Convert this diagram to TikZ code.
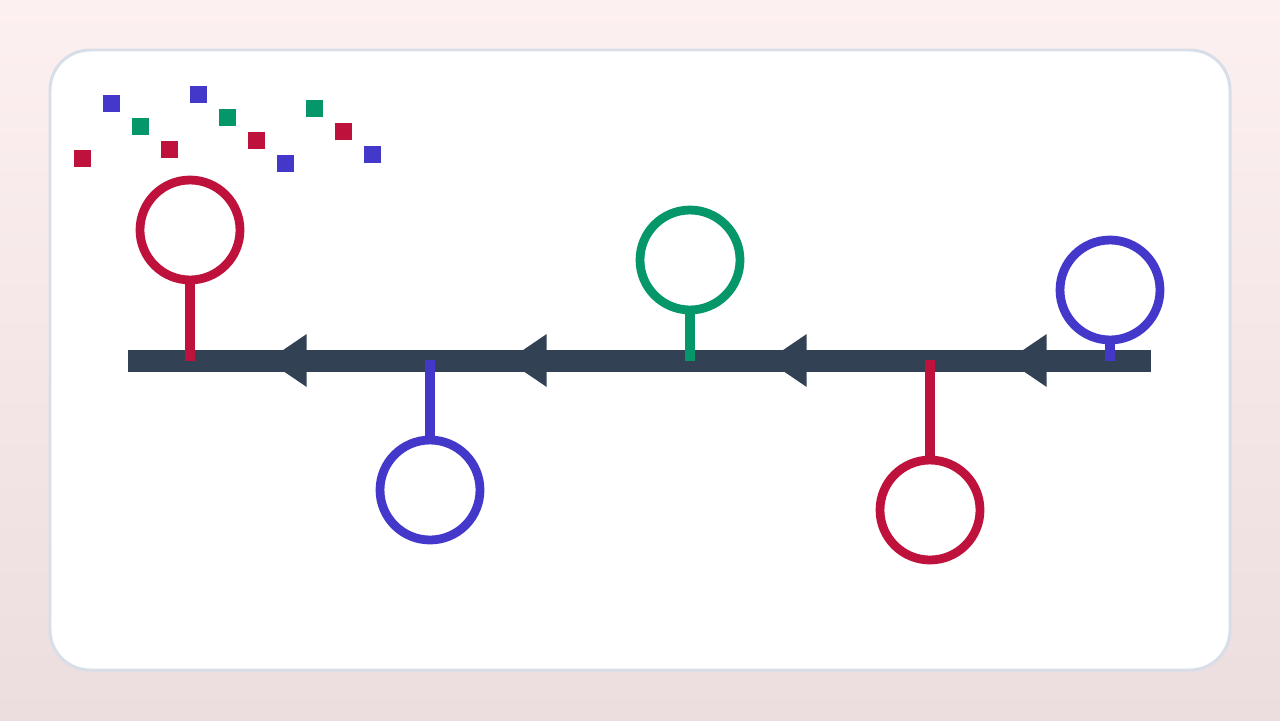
\documentclass[tikz,border=0pt]{standalone}
\usepackage{xcolor}
\usetikzlibrary{positioning}
\definecolor{ruby}{HTML}{BE123C}
\definecolor{indigo}{HTML}{4338CA}
\definecolor{emerald}{HTML}{059669}
\definecolor{slate}{HTML}{334155}
\definecolor{cardline}{HTML}{D8DEE8}
\definecolor{bgtop}{HTML}{FDF0F0}
\definecolor{bgbot}{HTML}{ECDDDE}

\begin{document}
\begin{tikzpicture}[x=0.02cm, y=-0.02cm,
  ring/.style={draw=#1, circle, line width=5pt, minimum size=2cm, inner sep=0pt},
  stem/.style={draw=#1, line width=6.2pt}]
  % Define background and card
  \shade[top color=bgtop, bottom color=bgbot] (0,0) rectangle (1280,720);
  \useasboundingbox (0,0) rectangle (1280,720);
  \draw[cardline, line width=1.7pt, fill=white, rounded corners=0.8cm] (50,50) rectangle (1230,670);

  % Define confetti squares
  \foreach \x/\y/\c in {82.5/158.5/ruby, 111.5/103.5/indigo, 140.5/126.5/emerald,
      169.5/149.5/ruby, 198.5/94.5/indigo, 227.5/117.5/emerald, 256.5/140.5/ruby,
      285.5/163.5/indigo, 314.5/108.5/emerald, 343.5/131.5/ruby, 372.5/154.5/indigo}
    \fill[\c] (\x-8.5,\y-8.5) rectangle (\x+8.5,\y+8.5);

  % Define timeline
  \coordinate (start) at (128,361);
  \coordinate (end) at (1151,361);
  \draw[slate, line width=12.5pt] (start) -- (end);
  \foreach \x in {306.7,546.7,806.7,1046.7}
    \fill[slate] (\x,334) -- (\x-39,360.5) -- (\x,387) -- cycle;

  % Define markers
  \node[ring=ruby] (m1) at (190,230) {};
  \node[ring=indigo] (m2) at (430,490) {};
  \node[ring=emerald] (m3) at (690,260) {};
  \node[ring=ruby] (m4) at (930,510) {};
  \node[ring=indigo] (m5) at (1110,290) {};
  \coordinate (t1) at (190,361);
  \coordinate (t2) at (430,360);
  \coordinate (t3) at (690,361);
  \coordinate (t4) at (930,360);
  \coordinate (t5) at (1110,361);

  % Connect markers to timeline
  \draw[stem=ruby] (t1) -- (m1);
  \draw[stem=indigo] (t2) -- (m2);
  \draw[stem=emerald] (t3) -- (m3);
  \draw[stem=ruby] (t4) -- (m4);
  \draw[stem=indigo] (t5) -- (m5);
\end{tikzpicture}
\end{document}
